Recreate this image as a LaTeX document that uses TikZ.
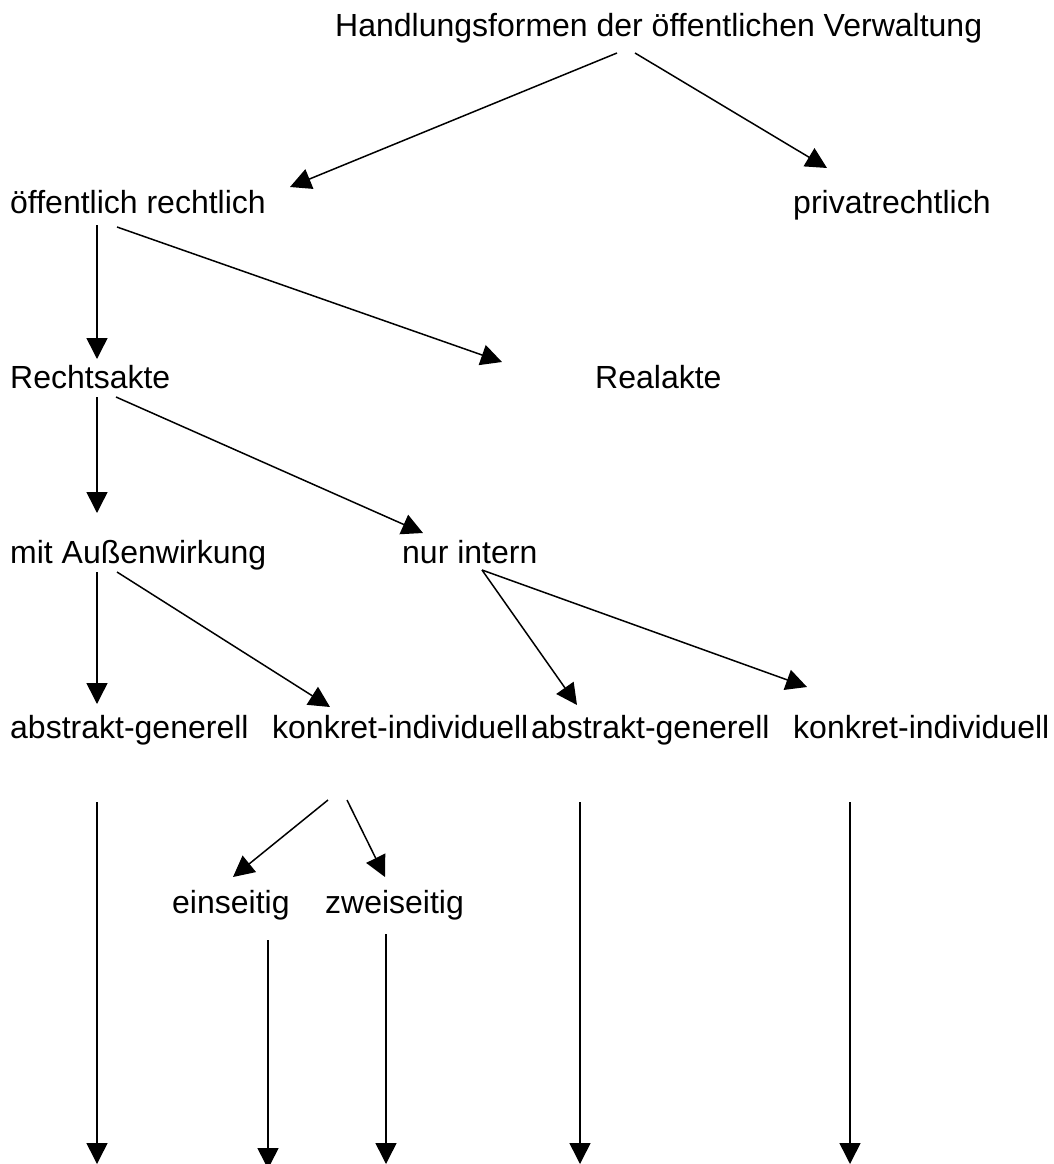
\documentclass[tikz,border=0pt]{standalone}
\usepackage{fontspec}
\setmainfont{Liberation Sans}
\usetikzlibrary{arrows.meta}

\tikzset{
	txt/.style={anchor=base west, inner sep=0pt, font=\fontsize{32}{38}\selectfont},
	pfeil/.style={-{Triangle[length=21pt,width=21pt]}, line width=1.5pt}
}

\begin{document}
\begin{tikzpicture}[x=1pt, y=-1pt]
			\useasboundingbox (0,0) rectangle (1053,1164);
			
			%Ebenen
			\node[txt] (hv) at (335,37){Handlungsformen der öffentlichen Verwaltung};
			\node[txt] (oer) at (10,213){öffentlich rechtlich};
			\node[txt] (pr) at (793,213){privatrechtlich};
			\node[txt] (ra) at (10,388){Rechtsakte};
			\node[txt] (re) at (595,388){Realakte};
			\node[txt] (maw) at (10,563){mit Außenwirkung};
			\node[txt] (ni) at (402,563){nur intern};
			\node[txt] (ag1) at (10,738){abstrakt-generell};
			\node[txt] (ki1) at (272,738){konkret-individuell};
			\node[txt] (ag2) at (531,738){abstrakt-generell};
			\node[txt] (ki2) at (793,738){konkret-individuell};
			\node[txt] (ein) at (172,913){einseitig};
			\node[txt] (zw) at (325,913){zweiseitig};
			
			%offene Enden unten
			\coordinate (u1) at (97,1164);
			\coordinate (u2) at (268,1169);
			\coordinate (u3) at (386,1164);
			\coordinate (u4) at (580,1164);
			\coordinate (u5) at (850,1164);
			
			\draw[pfeil] ([shift={(282,16)}]hv.base west) -- ([shift={(280,-26)}]oer.base west);
			\draw[pfeil] ([shift={(300,16)}]hv.base west) -- ([shift={(34,-45)}]pr.base west);
			
			\draw[pfeil] ([shift={(87,12)}]oer.base west) -- ([shift={(87,-29)}]ra.base west);
			\draw[pfeil] ([shift={(107,14)}]oer.base west) -- ([shift={(-93,-26)}]re.base west);
			
			\draw[pfeil] ([shift={(87,9)}]ra.base west) -- ([shift={(87,-50)}]maw.base west);
			\draw[pfeil] ([shift={(106,9)}]ra.base west) -- ([shift={(21,-30)}]ni.base west);
			
			\draw[pfeil] ([shift={(87,9)}]maw.base west) -- ([shift={(87,-34)}]ag1.base west);
			\draw[pfeil] ([shift={(107,9)}]maw.base west) -- ([shift={(58,-31)}]ki1.base west);
			\draw[pfeil] ([shift={(80,7)}]ni.base west) -- ([shift={(46,-33)}]ag2.base west);
			\draw[pfeil] ([shift={(80,7)}]ni.base west) -- ([shift={(14,-51)}]ki2.base west);
			
			\draw[pfeil] ([shift={(56,62)}]ki1.base west) -- ([shift={(61,-36)}]ein.base west);
			\draw[pfeil] ([shift={(75,62)}]ki1.base west) -- ([shift={(60,-36)}]zw.base west);
			
			\draw[pfeil] ([shift={(87,64)}]ag1.base west) -- (u1);
			\draw[pfeil] ([shift={(96,27)}]ein.base west) -- (u2);
			\draw[pfeil] ([shift={(61,21)}]zw.base west) -- (u3);
			\draw[pfeil] ([shift={(49,64)}]ag2.base west) -- (u4);
			\draw[pfeil] ([shift={(57,64)}]ki2.base west) -- (u5);
\end{tikzpicture}
\end{document}
